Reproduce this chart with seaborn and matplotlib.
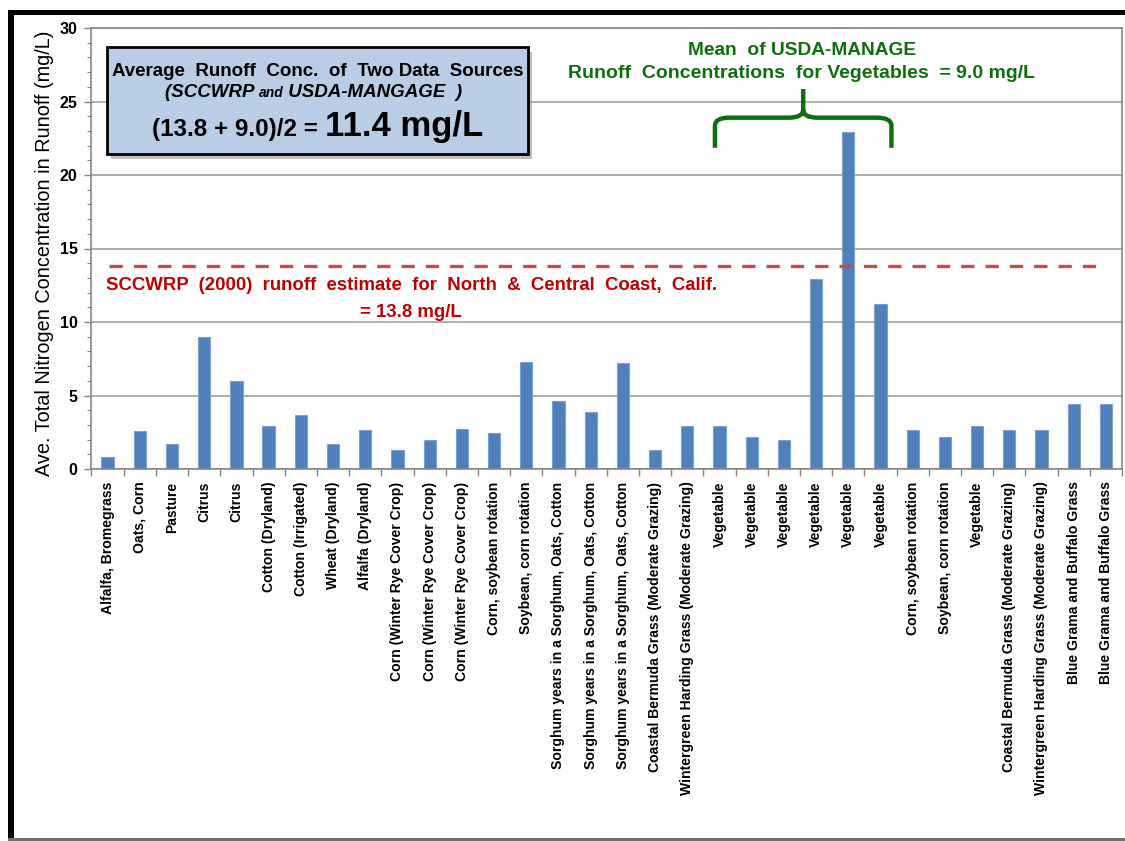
import numpy as np
import pandas as pd
import matplotlib
matplotlib.use("Agg")
import matplotlib.pyplot as plt
from matplotlib.patches import Rectangle, PathPatch
from matplotlib.path import Path
from matplotlib.ticker import MultipleLocator, FixedLocator
import seaborn as sns

# ── Data ───────────────────────────────────────────────────────────────────
crops = [
    "Alfalfa, Bromegrass", "Oats, Corn", "Pasture", "Citrus", "Citrus",
    "Cotton (Dryland)", "Cotton (Irrigated)", "Wheat (Dryland)", "Alfalfa (Dryland)",
    "Corn (Winter Rye Cover Crop)", "Corn (Winter Rye Cover Crop)",
    "Corn (Winter Rye Cover Crop)", "Corn, soybean rotation", "Soybean, corn rotation",
    "Sorghum years in a Sorghum, Oats, Cotton", "Sorghum years in a Sorghum, Oats, Cotton",
    "Sorghum years in a Sorghum, Oats, Cotton", "Coastal Bermuda Grass (Moderate Grazing)",
    "Wintergreen Harding Grass (Moderate Grazing)", "Vegetable", "Vegetable", "Vegetable",
    "Vegetable", "Vegetable", "Vegetable", "Corn, soybean rotation", "Soybean, corn rotation",
    "Vegetable", "Coastal Bermuda Grass (Moderate Grazing)",
    "Wintergreen Harding Grass (Moderate Grazing)", "Blue Grama and Buffalo Grass",
    "Blue Grama and Buffalo Grass",
]
runoff_n = [
    0.8, 2.6, 1.7, 9.0, 6.0,
    2.9, 3.7, 1.7, 2.65,
    1.3, 2.0, 2.75, 2.45, 7.3,
    4.65, 3.85, 7.2, 1.3, 2.95,
    2.95, 2.15, 2.0, 12.9, 22.9, 11.2,
    2.65, 2.15, 2.95, 2.65, 2.65, 4.4, 4.4,
]
sccwrp_estimate = 13.8
usda_veg_mean = 9.0
braced_bars = [19, 24]          # first / last vegetable bar under the brace
y_ticks = [0, 5, 10, 15, 20, 25, 30]

COLORS = {
    "bar": "#4F81BD",
    "bar_edge": "#7FA0CC",
    "grid": "#A6A6A6",
    "spine": "#868686",
    "sccwrp": "#C0504D",
    "sccwrp_text": "#C00000",
    "usda": "#0F6E0F",
    "box": "#B9CDE5",
}

W, H = 1125, 841


def fx(px):
    return px / W


def fy(py):
    return 1 - py / H


def centered_pieces(fig, pieces, cx, base_y, color="black"):
    """Lay out several text runs on one baseline, centred on cx (pixels)."""
    renderer = fig.canvas.get_renderer()
    texts = [fig.text(0, fy(base_y), s, va="baseline", ha="left", color=color, **kw)
             for s, kw in pieces]
    widths = [t.get_window_extent(renderer).width for t in texts]
    x = cx - sum(widths) / 2
    for t, w in zip(texts, widths):
        t.set_x(fx(x))
        x += w


sns.set_theme(style="white")
plt.rcParams["font.family"] = ["Liberation Sans", "DejaVu Sans"]
plt.rcParams.update({"text.color": "black", "axes.labelcolor": "black",
                     "xtick.color": "black", "ytick.color": "black"})

fig = plt.figure(figsize=(W / 100, H / 100), dpi=100)
ax = fig.add_axes([fx(91.5), fy(469), fx(1122) - fx(91.5), fy(28) - fy(469)])

df = pd.DataFrame({"pos": np.arange(len(crops)), "value": runoff_n})
sns.barplot(data=df, x="pos", y="value", color=COLORS["bar"], saturation=1,
            width=0.38, edgecolor=COLORS["bar_edge"], linewidth=0.8, ax=ax)

ax.set_xlim(-0.5, len(crops) - 0.5)
ax.set_ylim(0, 30)

# ── Axes styling ──────────────────────────────────────────────────────────
ax.set_axisbelow(True)
ax.yaxis.grid(True, color=COLORS["grid"], linewidth=1.3)
for sp in ax.spines.values():
    sp.set_visible(True)
    sp.set_color(COLORS["spine"])
    sp.set_linewidth(1.2)

ax.set_yticks(y_ticks)
ax.set_yticklabels([str(v) for v in y_ticks], fontweight="bold", fontsize=11.5)
ax.yaxis.set_minor_locator(MultipleLocator(1))
ax.tick_params(axis="y", which="major", direction="out", length=5, width=1,
               color=COLORS["spine"], pad=5, left=True)
ax.tick_params(axis="y", which="minor", direction="out", length=3, width=0.8,
               color=COLORS["spine"], left=True)

ax.set_xticks(np.arange(len(crops)))
ax.set_xticklabels(crops, rotation=90, fontweight="bold", fontsize=10.1,
                   va="top", ha="center")
ax.xaxis.set_minor_locator(FixedLocator(np.arange(len(crops) + 1) - 0.5))
ax.tick_params(axis="x", which="major", length=0, pad=9)
ax.tick_params(axis="x", which="minor", direction="out", length=5, width=1,
               color=COLORS["spine"], bottom=True)
ax.set_xlabel("")

ax.set_ylabel("Ave. Total Nitrogen Concentration in Runoff (mg/L)", fontsize=14.3)
ax.yaxis.set_label_coords(-0.036, 0.49)

# ── SCCWRP reference line ─────────────────────────────────────────────────
ax.plot([0.05, 30.75], [sccwrp_estimate, sccwrp_estimate], color=COLORS["sccwrp"],
        linewidth=2.4, dashes=(4, 3.3), zorder=1)

centered_pieces(fig, [("SCCWRP  (2000)  runoff  estimate  for  North  &  Central  Coast,  Calif.",
                       dict(fontsize=13.4, fontweight="bold"))], 412, 290, COLORS["sccwrp_text"])
centered_pieces(fig, [(f"= {sccwrp_estimate} mg/L", dict(fontsize=13.4, fontweight="bold"))],
                411, 317, COLORS["sccwrp_text"])

# ── USDA-MANAGE vegetable brace ───────────────────────────────────────────
x0, x1 = braced_bars[0] - 0.14, braced_bars[1] + 0.34
xm = (x0 + x1) / 2
y_end, y_flat, y_peak = 21.85, 23.9, 25.85
rx, ry = 0.45, 0.55
verts = [
    (x0, y_end), (x0, y_flat - ry), (x0, y_flat), (x0 + rx, y_flat),
    (xm - rx, y_flat), (xm, y_flat), (xm, y_flat + ry),
    (xm, y_peak),
    (xm, y_flat + ry), (xm, y_flat), (xm + rx, y_flat),
    (x1 - rx, y_flat), (x1, y_flat), (x1, y_flat - ry), (x1, y_end),
]
codes = [Path.MOVETO, Path.LINETO, Path.CURVE3, Path.CURVE3,
         Path.LINETO, Path.CURVE3, Path.CURVE3,
         Path.LINETO,
         Path.MOVETO, Path.CURVE3, Path.CURVE3,
         Path.LINETO, Path.CURVE3, Path.CURVE3, Path.LINETO]
ax.add_patch(PathPatch(Path(verts, codes), facecolor="none", edgecolor=COLORS["usda"],
                       linewidth=3.2, capstyle="butt", clip_on=False, zorder=4))

centered_pieces(fig, [("Mean  of USDA-MANAGE", dict(fontsize=13.8, fontweight="bold"))],
                802, 55, COLORS["usda"])
centered_pieces(fig, [(f"Runoff  Concentrations  for Vegetables  = {usda_veg_mean} mg/L",
                       dict(fontsize=14, fontweight="bold"))], 802, 78, COLORS["usda"])

# ── Summary box ───────────────────────────────────────────────────────────
bx0, by0, bx1, by1 = 107, 47, 528, 154
fig.add_artist(Rectangle((fx(bx0 + 4), fy(by1 + 5)), fx(bx1 - bx0), fy(by0) - fy(by1),
                         transform=fig.transFigure, facecolor="#8C8C8C", alpha=0.55,
                         edgecolor="none", zorder=5))
fig.add_artist(Rectangle((fx(bx0), fy(by1)), fx(bx1 - bx0), fy(by0) - fy(by1),
                         transform=fig.transFigure, facecolor=COLORS["box"],
                         edgecolor="black", linewidth=2, zorder=6))
cx = (bx0 + bx1) / 2
centered_pieces(fig, [("Average  Runoff  Conc.  of  Two Data  Sources",
                       dict(fontsize=13.5, fontweight="bold", zorder=7))], cx, 76)
centered_pieces(fig, [("(SCCWRP ", dict(fontsize=13.5, fontweight="bold", style="italic", zorder=7)),
                      ("and", dict(fontsize=10, fontweight="bold", style="italic", zorder=7)),
                      (" USDA-MANGAGE  )", dict(fontsize=13.5, fontweight="bold", style="italic", zorder=7))],
                cx - 4, 97)
avg = round((sccwrp_estimate + usda_veg_mean) / 2, 1)
centered_pieces(fig, [(f"({sccwrp_estimate} + {usda_veg_mean})/2 = ",
                       dict(fontsize=17.5, fontweight="bold", zorder=7)),
                      (f"{avg} mg/L", dict(fontsize=25, fontweight="bold", zorder=7))],
                cx, 136)

# ── Outer frame of the slide ──────────────────────────────────────────────
fig.add_artist(Rectangle((fx(8), 0), fx(6), fy(10), transform=fig.transFigure,
                         facecolor="black", edgecolor="none"))
fig.add_artist(Rectangle((fx(8), fy(15)), 1 - fx(8), fy(10) - fy(15),
                         transform=fig.transFigure, facecolor="black", edgecolor="none"))
fig.add_artist(Rectangle((fx(8), 0), 1 - fx(8), fy(838), transform=fig.transFigure,
                         facecolor="#707070", edgecolor="none"))

fig.savefig("out.png", dpi=100)
